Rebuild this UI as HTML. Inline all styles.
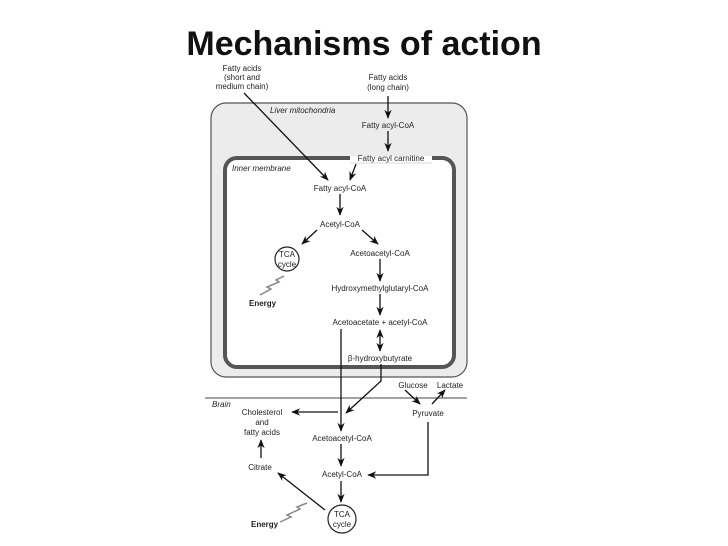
<!DOCTYPE html>
<html><head><meta charset="utf-8"><style>
html,body{margin:0;padding:0;background:#fff;width:728px;height:546px;overflow:hidden}
svg text{font-family:"Liberation Sans",sans-serif;fill:#222}
</style></head><body>
<svg width="728" height="546" viewBox="0 0 728 546" xmlns="http://www.w3.org/2000/svg">
<defs>
<marker id="a" viewBox="0 0 10 10" refX="9" refY="5" markerWidth="7" markerHeight="7" orient="auto-start-reverse">
<path d="M0,1 L10,5 L0,9 L3,5 z" fill="#111"/></marker>
</defs>
<text x="364" y="55" font-size="34" font-weight="bold" text-anchor="middle" style="fill:#111">Mechanisms of action</text>

<rect x="211" y="103" width="256" height="274" rx="15" fill="#ececec" stroke="#555" stroke-width="1.2"/>
<rect x="225" y="158" width="229" height="209" rx="12" fill="#fff" stroke="#555" stroke-width="4"/>
<rect x="350" y="152" width="82" height="12" fill="#ececec"/>
<rect x="350" y="156" width="82" height="6" fill="#fff"/>
<line x1="205" y1="398" x2="467" y2="398" stroke="#444" stroke-width="1"/>

<circle cx="287" cy="259" r="12" fill="#fff" stroke="#222" stroke-width="1.2"/>
<circle cx="342" cy="519" r="14" fill="#fff" stroke="#222" stroke-width="1.2"/>
<polyline points="284,276 276,280 279,282 267,287 271,289 260,295" fill="none" stroke="#888" stroke-width="1.5"/>
<polyline points="307,503 297,507 300,509 287,515 291,517 280,522" fill="none" stroke="#888" stroke-width="1.5"/>

<g font-size="8" text-anchor="middle">
<text x="242" y="71">Fatty acids</text>
<text x="242" y="80">(short and</text>
<text x="242" y="89">medium chain)</text>
<text x="388" y="80">Fatty acids</text>
<text x="388" y="90">(long chain)</text>
<text x="388" y="128">Fatty acyl-CoA</text>
<text x="391" y="161">Fatty acyl carnitine</text>
<text x="340" y="191">Fatty acyl-CoA</text>
<text x="340" y="227">Acetyl-CoA</text>
<text x="287" y="257">TCA</text>
<text x="287" y="267">cycle</text>
<text x="380" y="256">Acetoacetyl-CoA</text>
<text x="380" y="291">Hydroxymethylglutaryl-CoA</text>
<text x="380" y="325">Acetoacetate + acetyl-CoA</text>
<text x="380" y="361">β-hydroxybutyrate</text>
<text x="413" y="388">Glucose</text>
<text x="450" y="388">Lactate</text>
<text x="262" y="415">Cholesterol</text>
<text x="262" y="425">and</text>
<text x="262" y="435">fatty acids</text>
<text x="428" y="416">Pyruvate</text>
<text x="342" y="441">Acetoacetyl-CoA</text>
<text x="260" y="470">Citrate</text>
<text x="342" y="477">Acetyl-CoA</text>
<text x="342" y="517">TCA</text>
<text x="342" y="527">cycle</text>
</g>
<g font-size="8" font-style="italic">
<text x="270" y="113">Liver mitochondria</text>
<text x="232" y="171">Inner membrane</text>
<text x="212" y="407">Brain</text>
</g>
<g font-size="8" font-weight="bold">
<text x="249" y="306">Energy</text>
<text x="251" y="527">Energy</text>
</g>

<g stroke="#111" stroke-width="1.3" fill="none" marker-end="url(#a)">
<line x1="244" y1="93" x2="328" y2="180"/>
<line x1="388" y1="96" x2="388" y2="118"/>
<line x1="388" y1="131" x2="388" y2="151"/>
<line x1="356" y1="164" x2="350" y2="180"/>
<line x1="340" y1="194" x2="340" y2="215"/>
<line x1="317" y1="230" x2="302" y2="244"/>
<line x1="362" y1="230" x2="378" y2="244"/>
<line x1="380" y1="259" x2="380" y2="281"/>
<line x1="380" y1="294" x2="380" y2="315"/>
<line x1="380" y1="330" x2="380" y2="351" marker-start="url(#a)"/>
<line x1="341" y1="329" x2="341" y2="431"/>
<polyline points="381,364 381,381 346,413"/>
<line x1="338" y1="412" x2="292" y2="412"/>
<line x1="405" y1="390" x2="420" y2="404"/>
<line x1="432" y1="404" x2="445" y2="390"/>
<polyline points="428,422 428,475 368,475"/>
<line x1="341" y1="444" x2="341" y2="466"/>
<line x1="341" y1="481" x2="341" y2="502"/>
<line x1="325" y1="510" x2="278" y2="473"/>
<line x1="261" y1="458" x2="261" y2="440"/>
</g>
</svg>
</body></html>
